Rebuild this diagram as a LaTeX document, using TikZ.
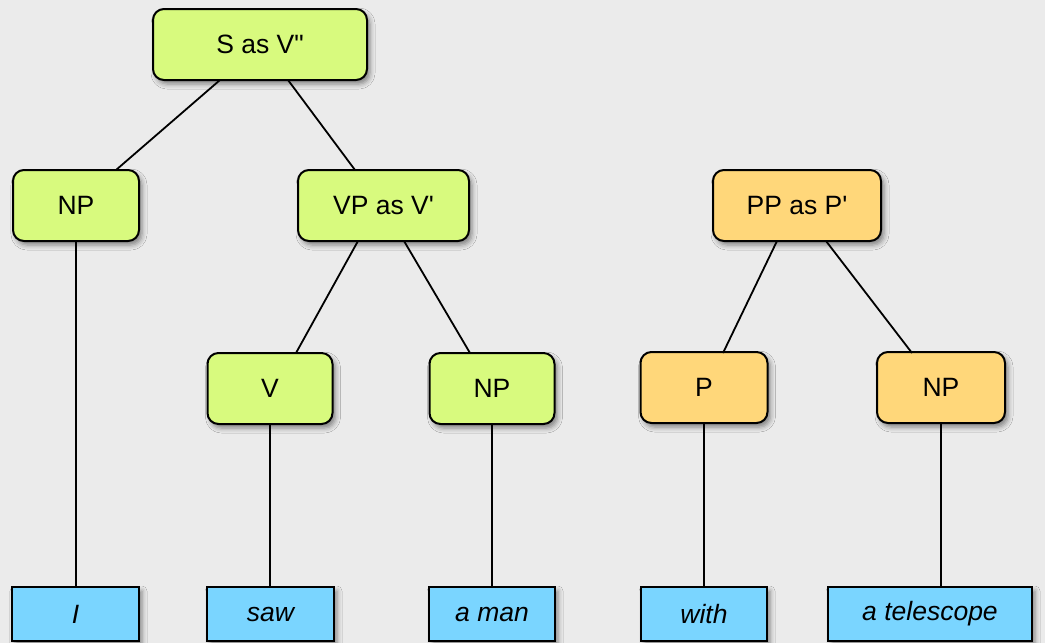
\documentclass[tikz,border=0pt]{standalone}
\usepackage{fontspec}
\setmainfont{Liberation Sans}[Ligatures=TeXOff]
\usetikzlibrary{shadows.blur}
\definecolor{bg}{RGB}{235,235,235}
\definecolor{phrase}{RGB}{216,250,126}
\definecolor{pphrase}{RGB}{255,215,122}
\definecolor{word}{RGB}{122,213,255}
\tikzset{
  box/.style={draw=black, line width=2pt, inner sep=0pt, align=center,
    font=\fontsize{26.5}{30}\selectfont,
    blur shadow={shadow xshift=3pt, shadow yshift=-4pt, shadow blur radius=5pt, shadow opacity=45}},
  cat/.style={box, rounded corners=11pt, minimum height=71pt},
  green/.style={cat, fill=phrase},
  orange/.style={cat, fill=pphrase},
  leaf/.style={box, fill=word, minimum height=54pt, font=\fontsize{26.5}{30}\selectfont\itshape},
  edge/.style={line width=1.8pt}
}
\begin{document}
\begin{tikzpicture}[x=1pt, y=-1pt]
  \fill[bg] (0,0) rectangle (1045,643);
  \useasboundingbox (0,0) rectangle (1045,643);

  % branch end points on the box edges
  \coordinate (s1) at (220,80);  \coordinate (np1t) at (116,170);
  \coordinate (s2) at (288,80);  \coordinate (vpt) at (355,170);
  \coordinate (vp1) at (358,241); \coordinate (vt) at (296,353);
  \coordinate (vp2) at (404,241); \coordinate (np2t) at (470,353);
  \coordinate (pp1) at (777,241); \coordinate (pt) at (723,353);
  \coordinate (pp2) at (826,241); \coordinate (np3t) at (912,353);

  % categories
  \node[green, minimum width=214pt] (S) at (260,44.5) {S as V"};
  \node[green, minimum width=126pt] (NP1) at (76,205.5) {NP};
  \node[green, minimum width=171pt] (VP) at (383.5,205.5) {VP as V'};
  \node[orange, minimum width=168pt] (PP) at (797,205.5) {PP as P'};
  \node[green, minimum width=125pt] (V) at (270,388.5) {V};
  \node[green, minimum width=125pt] (NP2) at (492,388.5) {NP};
  \node[orange, minimum width=127pt] (P) at (704,387.5) {P};
  \node[orange, minimum width=128pt] (NP3) at (941,387.5) {NP};

  % words
  \node[leaf, minimum width=127pt] (w1) at (75.5,614) {I};
  \node[leaf, minimum width=127pt] (w2) at (270.5,614) {saw};
  \node[leaf, minimum width=126pt] (w3) at (492,614) {a man};
  \node[leaf, minimum width=126pt] (w4) at (704,614) {with};
  \node[leaf, minimum width=204pt] (w5) at (930,614) {a telescope};

  % branches
  \draw[edge] (s1) -- (np1t);
  \draw[edge] (s2) -- (vpt);
  \draw[edge] (vp1) -- (vt);
  \draw[edge] (vp2) -- (np2t);
  \draw[edge] (pp1) -- (pt);
  \draw[edge] (pp2) -- (np3t);
  \draw[edge] (NP1.south) -- (w1.north -| NP1.south);
  \draw[edge] (V.south) -- (w2.north -| V.south);
  \draw[edge] (NP2.south) -- (w3.north -| NP2.south);
  \draw[edge] (P.south) -- (w4.north -| P.south);
  \draw[edge] (NP3.south) -- (w5.north -| NP3.south);
\end{tikzpicture}
\end{document}
